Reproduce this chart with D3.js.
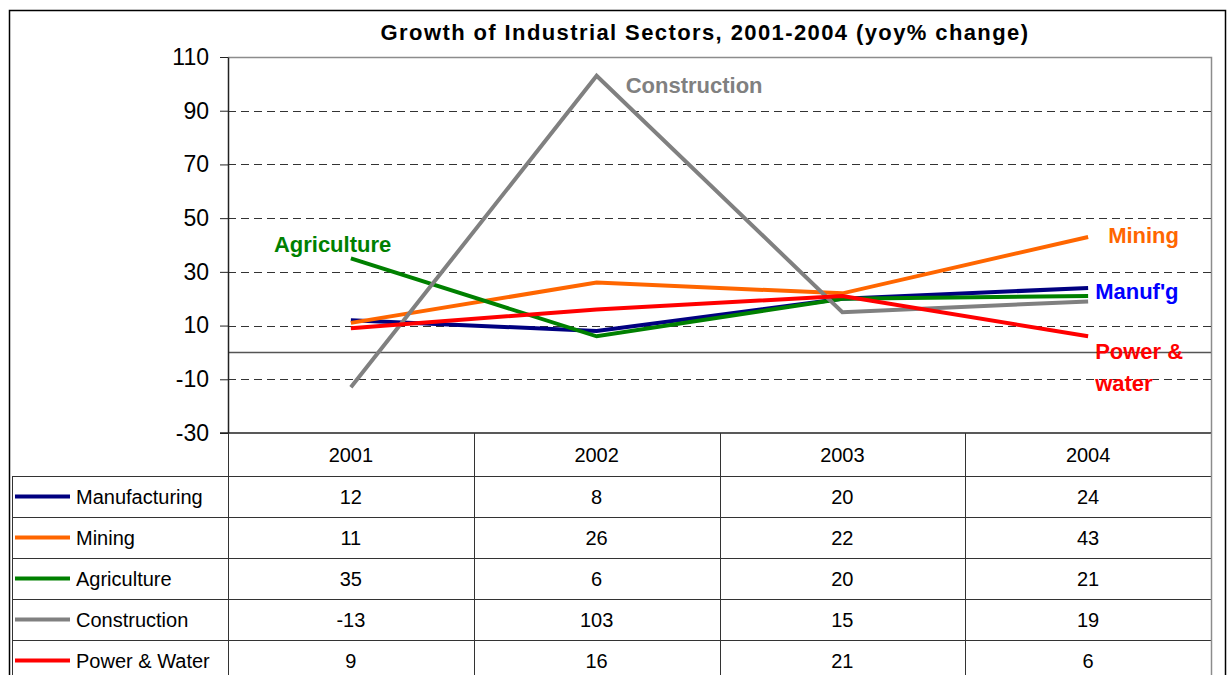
<!DOCTYPE html>
<html>
<head>
<meta charset="utf-8">
<script src="https://cdn.jsdelivr.net/npm/d3@7"></script>
<style>
  body { margin: 0; background: #fff; }
  svg { display: block; font-family: "Liberation Sans", Arial, sans-serif; }
</style>
</head>
<body>
<div id="chart"></div>
<script>

// data
var years = ["2001", "2002", "2003", "2004"]
var sectors = ["Manufacturing", "Mining", "Agriculture", "Construction", "Power & Water"]
var manufacturing = [12, 8, 20, 24]
var mining = [11, 26, 22, 43]
var agriculture = [35, 6, 20, 21]
var construction = [-13, 103, 15, 19]
var powerWater = [9, 16, 21, 6]
var yTicks = [-30, -10, 10, 30, 50, 70, 90, 110]

var colors = {
  "Manufacturing": "#000080",
  "Mining": "#ff6600",
  "Agriculture": "#008000",
  "Construction": "#808080",
  "Power & Water": "#ff0000"
};

// in-chart labels, anchored in data units (year band + offset, value)
var annotations = [
  { lines: ["Construction"], year: "2002", dx: 29, value: 96.6, color: "#808080" },
  { lines: ["Agriculture"], year: "2001", dx: -77, value: 37.5, color: "#008000" },
  { lines: ["Mining"], year: "2004", dx: 20, value: 40.7, color: "#ff6600" },
  { lines: ["Manuf'g"], year: "2004", dx: 7, value: 20, color: "#0000ff" },
  { lines: ["Power &", "water"], year: "2004", dx: 7, value: -2.3, color: "#ff0000" }
];

var series = sectors.map(function(name, i) {
  return { name: name, values: [manufacturing, mining, agriculture, construction, powerWater][i] };
});

var width = 1227
var height = 675
var plot = { left: 228, right: 1211, top: 57, bottom: 433 }
var rowH = 41

var svg = d3.select("#chart")
  .append("svg")
    .attr("width", width)
    .attr("height", height);

// outer frame
svg.append("rect")
  .attr("x", 9.5).attr("y", 10.5)
  .attr("width", 1216).attr("height", 700)
  .attr("fill", "none").attr("stroke", "#000").attr("stroke-width", 1.5);

var x = d3.scaleBand().domain(years).range([plot.left, plot.right]);
var y = d3.scaleLinear().domain([-30, 110]).range([plot.bottom, plot.top]);

// title
svg.append("text")
  .attr("x", 705).attr("y", 40)
  .attr("text-anchor", "middle")
  .attr("font-size", "22px").attr("font-weight", "bold")
  .attr("letter-spacing", "1.4px")
  .text("Growth of Industrial Sectors, 2001-2004 (yoy% change)");

// plot top and right border (grey)
svg.append("path")
  .attr("d", "M" + plot.left + "," + (plot.top + 0.5) + "H" + (plot.right + 0.5) + "V" + plot.bottom)
  .attr("fill", "none").attr("stroke", "#8c8c8c").attr("stroke-width", 1.5);

// dashed gridlines
svg.append("g")
  .selectAll("line")
  .data(yTicks.filter(function(d) { return d != -30 && d != 110; }))
  .join("line")
    .attr("x1", plot.left).attr("x2", plot.right)
    .attr("y1", function(d) { return Math.round(y(d)) + 0.5; })
    .attr("y2", function(d) { return Math.round(y(d)) + 0.5; })
    .attr("stroke", "#333")
    .attr("stroke-dasharray", "8,5");

// zero line
svg.append("line")
  .attr("x1", plot.left).attr("x2", plot.right)
  .attr("y1", y(0)).attr("y2", y(0))
  .attr("stroke", "#555").attr("stroke-width", 1.5);

// y axis (plain hyphen for negatives, like the original)
var yAxis = svg.append("g")
  .attr("transform", "translate(" + plot.left + ",0)")
  .call(d3.axisLeft(y).tickValues(yTicks).tickFormat(function(d) { return String(d); })
    .tickSize(8).tickPadding(11).tickSizeOuter(0));
yAxis.select(".domain").attr("stroke", "#222").attr("stroke-width", 1.5);
yAxis.selectAll(".tick line").attr("stroke", "#222");
yAxis.selectAll("text")
  .attr("font-size", "23px")
  .attr("font-family", "'Liberation Sans', Arial, sans-serif")
  .attr("fill", "#000");

// lines
var line = d3.line()
  .x(function(d, i) { return x(years[i]) + x.bandwidth() / 2; })
  .y(function(d) { return y(d); });

svg.append("g")
  .selectAll("path")
  .data(series)
  .join("path")
    .attr("d", function(d) { return line(d.values); })
    .attr("fill", "none")
    .attr("stroke", function(d) { return colors[d.name]; })
    .attr("stroke-width", 4)
    .attr("stroke-linejoin", "miter");

// in-chart labels
annotations.forEach(function(a) {
  var t = svg.append("text")
    .attr("x", x(a.year) + x.bandwidth() / 2 + a.dx)
    .attr("y", y(a.value))
    .attr("font-size", "22px").attr("font-weight", "bold")
    .attr("fill", a.color);
  a.lines.forEach(function(l, i) {
    t.append("tspan")
      .attr("x", x(a.year) + x.bandwidth() / 2 + a.dx)
      .attr("dy", i == 0 ? 0 : 32)
      .text(l);
  });
});

// data table
var table = svg.append("g");
var tableTop = plot.bottom;
var bodyTop = tableTop + 43;
var tableLeft = 12.5;

// header row
table.append("line")
  .attr("x1", plot.left - 8).attr("x2", plot.right)
  .attr("y1", tableTop).attr("y2", tableTop)
  .attr("stroke", "#222").attr("stroke-width", 1.5);

table.selectAll(".year")
  .data(years)
  .join("text")
    .attr("x", function(d) { return x(d) + x.bandwidth() / 2; })
    .attr("y", tableTop + 22)
    .attr("dy", "0.35em")
    .attr("text-anchor", "middle")
    .attr("font-size", "20px")
    .text(function(d) { return d; });

// horizontal rules
table.selectAll(".hrule")
  .data(d3.range(sectors.length + 1))
  .join("line")
    .attr("x1", tableLeft).attr("x2", plot.right)
    .attr("y1", function(i) { return Math.round(bodyTop + i * rowH) + 0.5; })
    .attr("y2", function(i) { return Math.round(bodyTop + i * rowH) + 0.5; })
    .attr("stroke", "#333");

// vertical rules
var cols = years.map(function(d) { return x(d); }).concat([plot.right]);
table.selectAll(".vrule")
  .data(cols)
  .join("line")
    .attr("x1", function(d) { return Math.round(d) + 0.5; })
    .attr("x2", function(d) { return Math.round(d) + 0.5; })
    .attr("y1", tableTop).attr("y2", height)
    .attr("stroke", function(d, i) { return i == cols.length - 1 ? "#8c8c8c" : "#333"; })
    .attr("stroke-width", function(d, i) { return i == cols.length - 1 ? 1.5 : 1; });

table.append("line")
  .attr("x1", tableLeft).attr("x2", tableLeft)
  .attr("y1", bodyTop).attr("y2", height)
  .attr("stroke", "#333");

// rows: legend key + values
var rows = table.selectAll(".row")
  .data(series)
  .join("g")
    .attr("transform", function(d, i) { return "translate(0," + (bodyTop + i * rowH + rowH / 2) + ")"; });

rows.append("line")
  .attr("x1", 15).attr("x2", 70)
  .attr("stroke", function(d) { return colors[d.name]; })
  .attr("stroke-width", 4);

rows.append("text")
  .attr("x", 76).attr("dy", "0.35em")
  .attr("font-size", "20px")
  .text(function(d) { return d.name; });

rows.selectAll(".val")
  .data(function(d) { return d.values; })
  .join("text")
    .attr("x", function(d, i) { return x(years[i]) + x.bandwidth() / 2; })
    .attr("dy", "0.35em")
    .attr("text-anchor", "middle")
    .attr("font-size", "20px")
    .text(function(d) { return d; });

</script>
</body>
</html>
